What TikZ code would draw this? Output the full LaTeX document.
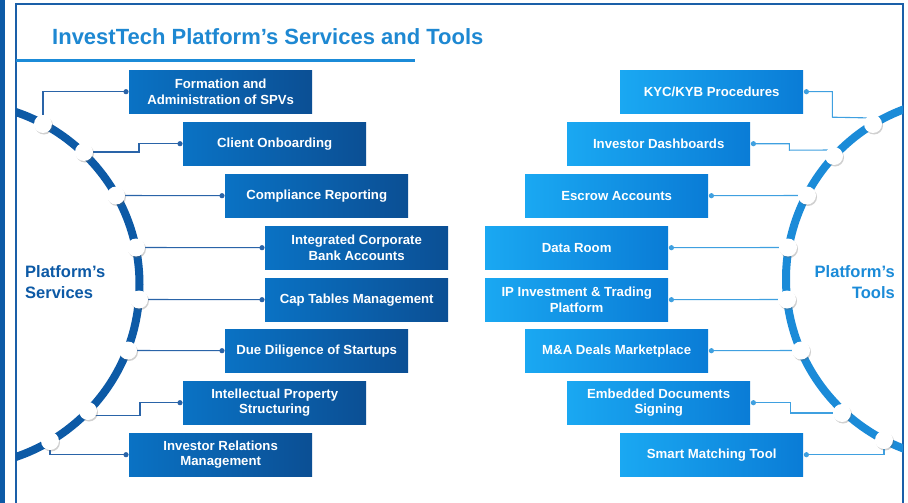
\documentclass[tikz,border=0pt]{standalone}
\usepackage{fontspec}
\setmainfont{Liberation Sans}
\usetikzlibrary{shadows}
\definecolor{dblue}{HTML}{0D5AA6}
\definecolor{lblue}{HTML}{1B8BD8}
\definecolor{titleblue}{HTML}{1E88D2}
\definecolor{frameblue}{HTML}{1A5FA8}
\definecolor{lboxA}{HTML}{0A72C4}
\definecolor{lboxB}{HTML}{0B4F94}
\definecolor{rboxA}{HTML}{1AA8F2}
\definecolor{rboxB}{HTML}{0A7CD6}
\definecolor{lconncol}{HTML}{2A64A8}
\definecolor{rconncol}{HTML}{3FA0E0}
\begin{document}
\begin{tikzpicture}[x=1pt,y=-1pt,
  boxbase/.style={minimum width=183pt, minimum height=43pt, inner sep=0pt, text=white,
    font=\bfseries\fontsize{13.2}{15.8}\selectfont, align=center, anchor=north west},
  lbox/.style={boxbase, left color=lboxA, right color=lboxB},
  rbox/.style={boxbase, left color=rboxA, right color=rboxB},
  knob/.style={circle, minimum size=18pt, inner sep=0pt, fill=white,
    drop shadow={shadow xshift=1pt, shadow yshift=-1.5pt, opacity=0.3, fill=black!60}},
  lconn/.style={draw=lconncol, line width=1.1pt},
  rconn/.style={draw=rconncol, line width=1.1pt},
  sidelabel/.style={inner sep=0pt, font=\bfseries\fontsize{16.5}{20.5}\selectfont}]
\useasboundingbox (0,0) rectangle (908,503);
\fill[white] (0,0) rectangle (908,503);
% left strip and frame
\fill[dblue] (0,0) rectangle (5,503);
\draw[frameblue, line width=1.3pt] (16,503) -- (16,4) -- (903,4) -- (903,503);
% title
\node[anchor=base west, inner sep=0pt, text=titleblue, font=\bfseries\fontsize{22}{26}\selectfont] (title) at (52,44.5) {InvestTech Platform’s Services and Tools};
\draw[lblue, line width=3.5pt] (16,60.5) -- (415,60.5);
% arcs
\begin{scope}
\clip (16,0) rectangle (903,503);
\draw[dblue, line width=8pt] (-42.5,284.5) circle [radius=182pt];
\draw[lblue, line width=8pt] (967,279) circle [radius=181pt];
\end{scope}
% side labels
\node[sidelabel, text=dblue, anchor=west, align=left] (svc) at (25,282) {Platform’s\\Services};
\node[sidelabel, text=lblue, anchor=east, align=right] (tls) at (895,282) {Platform’s\\Tools};
% boxes
\node[lbox] (L1) at (129,70) {Formation and\\Administration of SPVs};
\node[lbox] (L2) at (183,122) {Client Onboarding};
\node[lbox] (L3) at (225,174) {Compliance Reporting};
\node[lbox] (L4) at (265,226) {Integrated Corporate\\Bank Accounts};
\node[lbox] (L5) at (265,278) {Cap Tables Management};
\node[lbox] (L6) at (225,329) {Due Diligence of Startups};
\node[lbox] (L7) at (183,381) {Intellectual Property\\Structuring};
\node[lbox] (L8) at (129,433) {Investor Relations\\Management};
\node[rbox] (R1) at (620,70) {KYC/KYB Procedures};
\node[rbox] (R2) at (567,122) {Investor Dashboards};
\node[rbox] (R3) at (525,174) {Escrow Accounts};
\node[rbox] (R4) at (485,226) {Data Room};
\node[rbox] (R5) at (485,278) {IP Investment \& Trading\\Platform};
\node[rbox] (R6) at (525,329) {M\&A Deals Marketplace};
\node[rbox] (R7) at (567,381) {Embedded Documents\\Signing};
\node[rbox] (R8) at (620,433) {Smart Matching Tool};
% knob positions
\coordinate (pL1) at (43,124);
\coordinate (pL2) at (84,152);
\coordinate (pL3) at (116,195.5);
\coordinate (pL4) at (136,247.5);
\coordinate (pL5) at (139,299.5);
\coordinate (pL6) at (128,350.5);
\coordinate (pL7) at (88,411);
\coordinate (pL8) at (50,441);
\coordinate (pR1) at (873,124);
\coordinate (pR2) at (834,156);
\coordinate (pR3) at (807,195.5);
\coordinate (pR4) at (788,247.5);
\coordinate (pR5) at (787,299.5);
\coordinate (pR6) at (801,350.5);
\coordinate (pR7) at (842,413);
\coordinate (pR8) at (884,440);
% connector dots
\foreach \i in {1,...,8}{
  \coordinate (dL\i) at ([xshift=-3pt]L\i.west);
  \coordinate (dR\i) at ([xshift=3pt]R\i.east);
}
% connectors
\draw[lconn] (dL1) -| (pL1);
\draw[lconn] (dL2) -- ++(-41,0) |- (pL2);
\draw[lconn] (dL3) -- (pL3);
\draw[lconn] (dL4) -- (pL4);
\draw[lconn] (dL5) -- (pL5);
\draw[lconn] (dL6) -- (pL6);
\draw[lconn] (dL7) -- ++(-40,0) -- ++(0,12.5) -| ([xshift=-2pt]pL7);
\draw[lconn] (dL8) -| (pL8);
\draw[rconn] (dR1) -- ++(26,0) -- ++(0,25.5) -- ([yshift=6pt]pR1);
\draw[rconn] (dR2) -- ++(36,0) -- ++(0,6.5) -- ([yshift=6pt]pR2);
\draw[rconn] (dR3) -- (pR3);
\draw[rconn] (dR4) -- (pR4);
\draw[rconn] (dR5) -- (pR5);
\draw[rconn] (dR6) -- (pR6);
\draw[rconn] (dR7) -- ++(37,0) |- (pR7);
\draw[rconn] (dR8) -| (pR8);
% knobs
\foreach \i in {1,...,8}{
  \node[knob] (cL\i) at (pL\i) {};
  \node[knob] (cR\i) at (pR\i) {};
  \fill[lconncol] (dL\i) circle [radius=2.6pt];
  \fill[rconncol] (dR\i) circle [radius=2.6pt];
}
\end{tikzpicture}
\end{document}
